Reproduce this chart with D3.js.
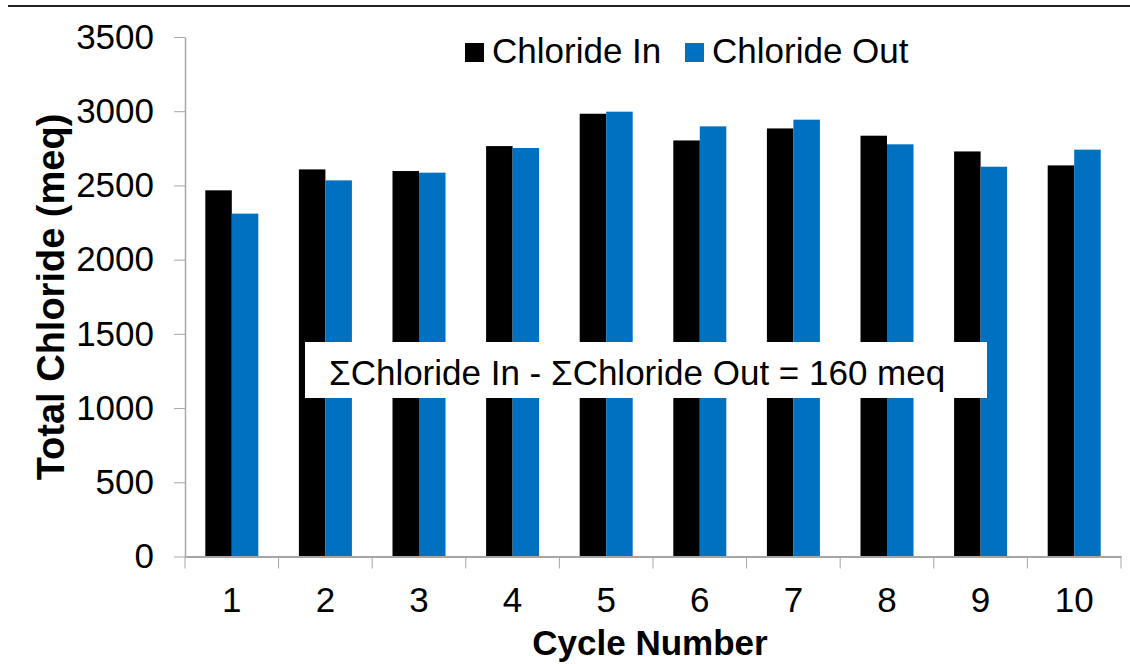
<!DOCTYPE html>
<html>
<head>
<meta charset="utf-8">
<script src="https://cdn.jsdelivr.net/npm/d3@7"></script>
<style>
  body { margin: 0; background: #fff; }
  svg { display: block; font-family: "Liberation Sans", Arial, sans-serif; }
  .axis path, .axis line { stroke: #a6a6a6; }
</style>
</head>
<body>
<svg id="chart" width="1130" height="664"></svg>
<script>
// data
var cycles = ["1", "2", "3", "4", "5", "6", "7", "8", "9", "10"];
var chlorideIn  = [2467, 2608, 2597, 2765, 2983, 2803, 2884, 2835, 2729, 2635];
var chlorideOut = [2310, 2534, 2586, 2752, 2997, 2898, 2943, 2777, 2626, 2741];
var seriesNames = ["Chloride In", "Chloride Out"];
var seriesColors = ["#000000", "#0070c0"];
var yTicks = [0, 500, 1000, 1500, 2000, 2500, 3000, 3500];

var svg = d3.select("#chart");
var plotLeft = 185, plotRight = 1121, plotTop = 37, plotBottom = 556.5;

var x0 = d3.scaleBand().domain(cycles).range([plotLeft, plotRight]).padding(0);
var x1 = d3.scaleBand().domain(seriesNames).range([0, x0.bandwidth()])
    .paddingInner(0).paddingOuter(0.766);
var y = d3.scaleLinear().domain([0, 3500]).range([plotBottom, plotTop]);
var color = d3.scaleOrdinal().domain(seriesNames).range(seriesColors);

// top rule
svg.append("line")
    .attr("x1", 8).attr("x2", 1130)
    .attr("y1", 6).attr("y2", 6)
    .attr("stroke", "#222").attr("stroke-width", 2);

// bars
var rows = cycles.map(function(c, i) {
    return { cycle: c, values: [chlorideIn[i], chlorideOut[i]] };
});
var groups = svg.selectAll(".cycle")
    .data(rows)
    .enter().append("g")
    .attr("class", "cycle")
    .attr("transform", function(d) { return "translate(" + x0(d.cycle) + ",0)"; });
groups.selectAll("rect")
    .data(function(d) {
        return seriesNames.map(function(s, j) { return { name: s, value: d.values[j] }; });
    })
    .enter().append("rect")
    .attr("x", function(d) { return x1(d.name); })
    .attr("y", function(d) { return y(d.value); })
    .attr("width", x1.bandwidth())
    .attr("height", function(d) { return plotBottom - y(d.value); })
    .attr("fill", function(d) { return color(d.name); });

// y axis
var yAxis = d3.axisLeft(y)
    .tickValues(yTicks)
    .tickFormat(d3.format("d"))
    .tickSizeInner(11)
    .tickSizeOuter(0)
    .tickPadding(20);
var gy = svg.append("g")
    .attr("class", "axis")
    .attr("transform", "translate(" + plotLeft + ",0)")
    .call(yAxis);
gy.selectAll("text").attr("font-size", "35px").attr("fill", "#000");
gy.select(".domain").attr("stroke-width", 1.5);

// x axis: labels in band centres, ticks on band edges
var xAxis = d3.axisBottom(x0).tickSize(0).tickPadding(30.6);
var gx = svg.append("g")
    .attr("class", "axis")
    .attr("transform", "translate(0," + plotBottom + ")")
    .call(xAxis);
gx.selectAll("text").attr("font-size", "35px").attr("fill", "#000");
gx.select(".domain").attr("stroke-width", 2);
var edges = cycles.map(function(c) { return x0(c); }).concat([plotRight]);
gx.selectAll(".edge")
    .data(edges)
    .enter().append("line")
    .attr("class", "edge")
    .attr("x1", function(d) { return d; })
    .attr("x2", function(d) { return d; })
    .attr("y1", 0).attr("y2", 12)
    .attr("stroke", "#a6a6a6");

// axis titles
svg.append("text")
    .attr("transform", "translate(64,297) rotate(-90)")
    .attr("text-anchor", "middle")
    .attr("font-size", "38px")
    .attr("font-weight", "bold")
    .text("Total Chloride (meq)");
svg.append("text")
    .attr("x", (plotLeft + plotRight) / 2 - 3)
    .attr("y", 655)
    .attr("text-anchor", "middle")
    .attr("font-size", "35px")
    .attr("font-weight", "bold")
    .text("Cycle Number");

// legend
var legendX = [465, 685];
var legend = svg.selectAll(".legend")
    .data(seriesNames)
    .enter().append("g")
    .attr("class", "legend")
    .attr("transform", function(d, i) { return "translate(" + legendX[i] + ",0)"; });
legend.append("rect")
    .attr("x", 0).attr("y", 43)
    .attr("width", 19).attr("height", 19)
    .attr("fill", function(d) { return color(d); });
legend.append("text")
    .attr("x", 27).attr("y", 63)
    .attr("font-size", "35px")
    .text(function(d) { return d; });

// annotation
svg.append("rect")
    .attr("x", 305).attr("y", 342)
    .attr("width", 682).attr("height", 56)
    .attr("fill", "#fff");
svg.append("text")
    .attr("x", 329).attr("y", 385)
    .attr("font-size", "35px")
    .text("\u03A3Chloride In - \u03A3Chloride Out = 160 meq");
</script>
</body>
</html>
